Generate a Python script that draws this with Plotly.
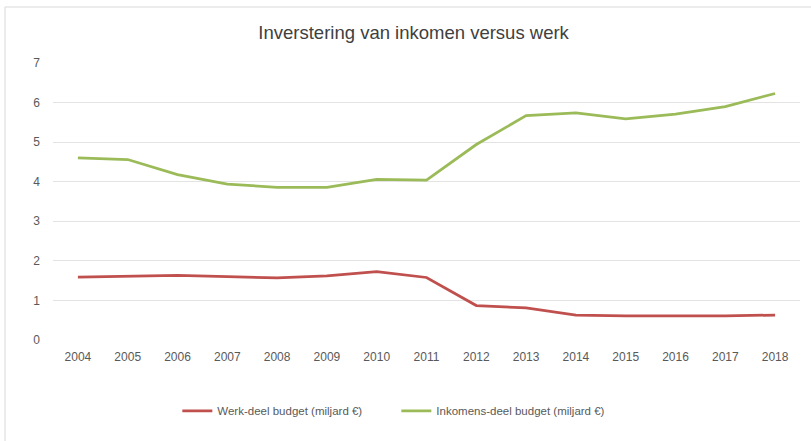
import plotly.graph_objects as go

years = ["2004", "2005", "2006", "2007", "2008", "2009", "2010", "2011",
         "2012", "2013", "2014", "2015", "2016", "2017", "2018"]
werk = [1.59, 1.61, 1.63, 1.60, 1.57, 1.62, 1.73, 1.58,
        0.87, 0.81, 0.63, 0.61, 0.61, 0.61, 0.63]
inkomen = [4.60, 4.56, 4.18, 3.94, 3.86, 3.86, 4.06, 4.04,
           4.94, 5.67, 5.74, 5.59, 5.71, 5.90, 6.23]
name_werk = "Werk-deel budget (miljard €)"
name_inkomen = "Inkomens-deel budget (miljard €)"
title = "Inverstering van inkomen versus werk"

FONT = "Liberation Sans, Arial, sans-serif"
TXT = "#595959"

fig = go.Figure()
fig.add_trace(go.Scatter(x=years, y=werk, name=name_werk, mode="lines",
                         line=dict(color="#C0504D", width=2.75)))
fig.add_trace(go.Scatter(x=years, y=inkomen, name=name_inkomen, mode="lines",
                         line=dict(color="#9BBB59", width=2.75)))

fig.update_layout(
    width=811, height=441,
    margin=dict(l=53, r=11, t=63, b=101),
    paper_bgcolor="white", plot_bgcolor="white",
    font=dict(family=FONT, color=TXT, size=12),
    title=dict(text=title, x=0.51, xanchor="center", y=1 - 33 / 441,
               yanchor="middle", font=dict(size=18.5, color="#404040", family=FONT)),
    showlegend=True,
    legend=dict(orientation="h", x=0.4596, xanchor="center", y=-0.256,
                yanchor="middle", font=dict(size=11.5, color=TXT),
                itemwidth=30, entrywidth=174, tracegroupgap=0,
                bgcolor="rgba(0,0,0,0)"),
    xaxis=dict(type="category", range=[-0.5, len(years) - 0.5], showgrid=False,
               zeroline=False, showline=False, ticks="",
               tickfont=dict(size=12, color=TXT), ticklabelstandoff=8),
    yaxis=dict(range=[0, 7], dtick=1, showgrid=True, gridcolor="#E3E3E3",
               gridwidth=1, zeroline=False, showline=False, ticks="",
               tickfont=dict(size=12, color=TXT), ticklabelstandoff=12),
    shapes=[dict(type="rect", xref="paper", yref="paper",
                 x0=(5 - 53) / 747, x1=1.2, y0=-0.5, y1=1 + (63 - 7) / 277,
                 line=dict(color="#D9D9D9", width=1), fillcolor="rgba(0,0,0,0)",
                 layer="below")],
)

fig.write_html("out.html")
